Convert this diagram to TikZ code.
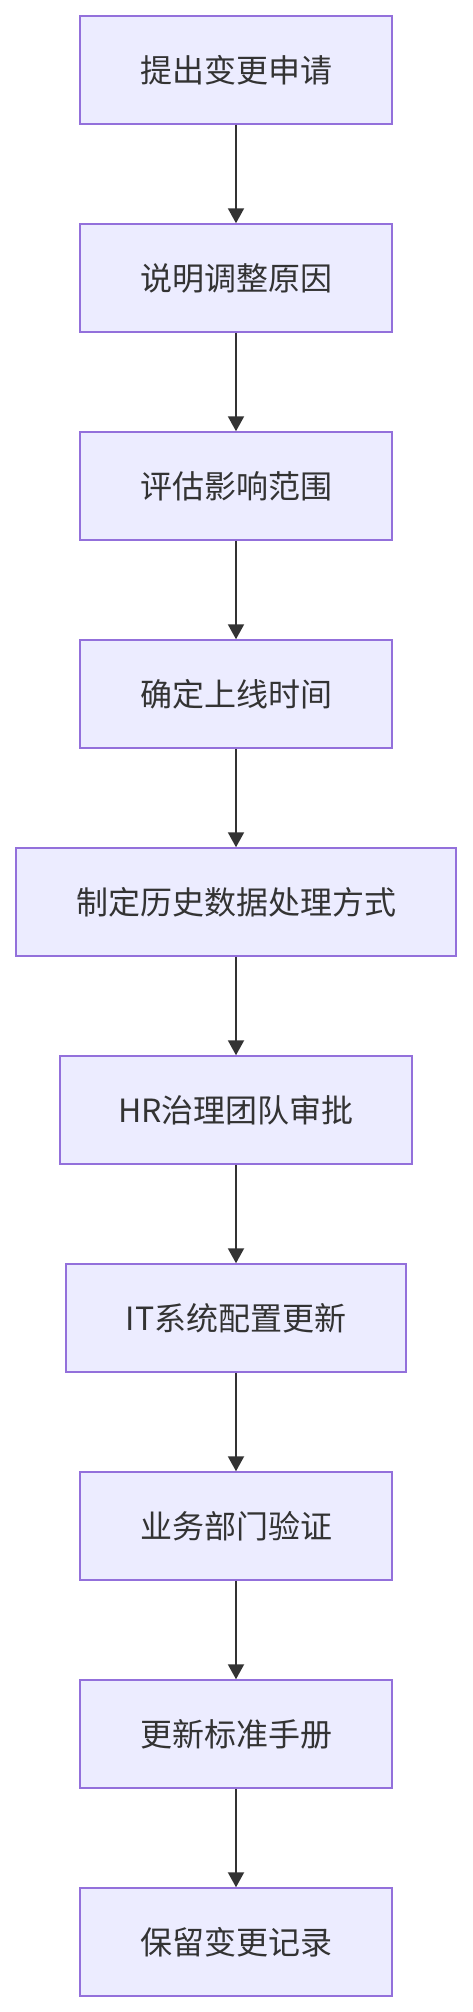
\documentclass[tikz,border=0pt]{standalone}
\usepackage{fontspec}
\setmainfont{Noto Sans CJK SC}
\usetikzlibrary{arrows.meta}
\definecolor{boxfill}{HTML}{ECECFF}
\definecolor{boxline}{HTML}{9370DB}
\definecolor{ink}{HTML}{333333}
\tikzset{
  stepbox/.style={draw=boxline, fill=boxfill, line width=1.5pt, minimum height=108pt,
    inner sep=0pt, text=ink, font=\fontsize{32}{38}\selectfont},
  flow/.style={-{Triangle[length=15pt,width=16pt]}, draw=ink, fill=ink, line width=2pt}
}
\begin{document}
\begin{tikzpicture}[x=1pt, y=1pt]
    \useasboundingbox (0,0) rectangle (472,-2012);
    
    \node[stepbox, minimum width=312pt] (s1) at (236,-70) {提出变更申请};
    \node[stepbox, minimum width=312pt] (s2) at (236,-278) {说明调整原因};
    \node[stepbox, minimum width=312pt] (s3) at (236,-486) {评估影响范围};
    \node[stepbox, minimum width=312pt] (s4) at (236,-694) {确定上线时间};
    \node[stepbox, minimum width=440pt] (s5) at (236,-902) {制定历史数据处理方式};
    \node[stepbox, minimum width=352pt] (s6) at (236,-1110) {HR治理团队审批};
    \node[stepbox, minimum width=340pt] (s7) at (236,-1318) {IT系统配置更新};
    \node[stepbox, minimum width=312pt] (s8) at (236,-1526) {业务部门验证};
    \node[stepbox, minimum width=312pt] (s9) at (236,-1734) {更新标准手册};
    \node[stepbox, minimum width=312pt] (s10) at (236,-1942) {保留变更记录};
    
    \foreach \a/\b in {s1/s2, s2/s3, s3/s4, s4/s5, s5/s6, s6/s7, s7/s8, s8/s9, s9/s10}
    {
      \draw[flow] (\a) -- (\b);
    }
    
\end{tikzpicture}
\end{document}
